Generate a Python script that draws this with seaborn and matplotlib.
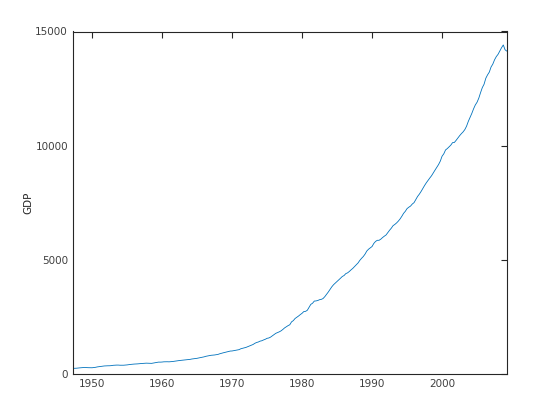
import numpy as np
import pandas as pd
import matplotlib
matplotlib.use("Agg")
import matplotlib.pyplot as plt
import seaborn as sns

# Quarterly US GDP (billions), 1947Q1 .. 2009Q1, one row per year
years = list(range(1947, 2010))
gdp_by_year = [
    [237.2, 240.4, 244.5, 254.3],          # 1947
    [260.3, 267.3, 273.8, 275.1],
    [269.9, 267.8, 267.4, 264.8],
    [275.2, 284.6, 302.0, 313.4],          # 1950
    [329.2, 336.1, 343.5, 348.4],
    [351.2, 352.2, 358.3, 371.5],
    [378.3, 381.5, 381.9, 375.7],
    [375.4, 375.9, 380.7, 389.5],
    [402.6, 410.9, 419.4, 426.1],
    [428.4, 434.9, 439.8, 449.0],
    [456.0, 459.9, 466.2, 461.8],
    [455.4, 457.3, 470.3, 485.9],
    [497.9, 512.2, 510.9, 515.3],
    [525.2, 527.8, 528.0, 524.6],          # 1960
    [529.5, 538.3, 549.9, 561.4],
    [573.8, 582.5, 590.4, 596.1],
    [602.5, 611.3, 625.0, 632.1],
    [648.0, 657.8, 669.6, 678.9],
    [697.4, 711.0, 726.0, 742.0],
    [766.1, 780.3, 793.9, 810.9],
    [816.8, 824.8, 838.0, 851.0],
    [878.5, 900.8, 920.6, 940.1],
    [963.5, 978.0, 996.6, 1000.3],
    [1015.8, 1030.8, 1049.1, 1058.4],      # 1970
    [1097.1, 1116.6, 1136.5, 1158.2],
    [1190.8, 1226.5, 1251.9, 1284.0],
    [1335.0, 1372.0, 1393.0, 1431.0],
    [1448.0, 1484.0, 1513.0, 1555.0],
    [1570.0, 1607.0, 1662.0, 1714.2],
    [1774.0, 1805.0, 1840.0, 1882.2],
    [1942.0, 2010.0, 2061.0, 2110.6],
    [2150.0, 2276.0, 2330.0, 2422.8],
    [2475.0, 2532.0, 2595.0, 2651.2],
    [2727.0, 2736.0, 2783.0, 2912.0],      # 1980
    [3042.0, 3092.0, 3187.0, 3193.6],
    [3213.0, 3247.0, 3262.0, 3298.0],
    [3380.0, 3480.0, 3585.0, 3701.8],
    [3812.0, 3904.0, 3974.0, 4042.8],
    [4120.0, 4190.0, 4265.0, 4306.2],
    [4390.0, 4423.0, 4483.0, 4555.2],
    [4620.0, 4700.0, 4780.0, 4858.0],
    [4970.0, 5060.0, 5140.0, 5245.2],
    [5380.0, 5460.0, 5520.0, 5577.6],
    [5712.0, 5800.0, 5850.0, 5850.4],      # 1990
    [5900.0, 5970.0, 6030.0, 6083.6],
    [6190.0, 6290.0, 6380.0, 6490.8],
    [6545.0, 6610.0, 6690.0, 6784.6],
    [6900.0, 7030.0, 7120.0, 7238.8],
    [7300.0, 7350.0, 7440.0, 7500.8],
    [7640.0, 7770.0, 7870.0, 7987.6],
    [8120.0, 8250.0, 8370.0, 8477.2],
    [8580.0, 8680.0, 8800.0, 8928.0],
    [9050.0, 9170.0, 9320.0, 9533.6],
    [9640.0, 9810.0, 9870.0, 9948.0],      # 2000
    [10020.0, 10130.0, 10135.0, 10227.0],
    [10330.0, 10430.0, 10520.0, 10598.4],
    [10700.0, 10850.0, 11060.0, 11233.2],
    [11410.0, 11610.0, 11780.0, 11900.0],
    [12080.0, 12320.0, 12540.0, 12687.6],
    [12950.0, 13100.0, 13220.0, 13443.6],
    [13570.0, 13760.0, 13900.0, 14000.0],
    [14150.0, 14290.0, 14410.0, 14200.0],
    [14140.0],                             # 2009
]
x_ticks = [1950, 1960, 1970, 1980, 1990, 2000]
y_ticks = [0, 5000, 10000, 15000]

rows = []
for yr, vals in zip(years, gdp_by_year):
    for q, v in enumerate(vals, start=1):
        rows.append({"date": yr + q / 4, "GDP": v})
df = pd.DataFrame(rows)

sns.set_style("white")
plt.rcParams["font.family"] = ["DejaVu Sans"]
fig = plt.figure(figsize=(5.6, 4.2), dpi=100)
ax = fig.add_axes([0.13, 0.11, 0.775, 0.815])

sns.lineplot(data=df, x="date", y="GDP", color="#0072BD", linewidth=0.6, ax=ax)

ax.set_xlim(df["date"].min(), df["date"].max())
ax.set_ylim(0, 15000)
ax.set_xticks(x_ticks)
ax.set_yticks(y_ticks)
ax.set_xlabel("")
ax.set_ylabel("GDP", fontsize=7.5, color="#262626", labelpad=1)

for side in ["top", "right", "bottom", "left"]:
    ax.spines[side].set_visible(True)
    ax.spines[side].set_color("#262626")
    ax.spines[side].set_linewidth(0.8)
ax.tick_params(direction="in", top=True, right=True, length=4, width=0.8,
               color="#262626", labelsize=7.5, labelcolor="#404040")

fig.savefig("out.png", dpi=100)
